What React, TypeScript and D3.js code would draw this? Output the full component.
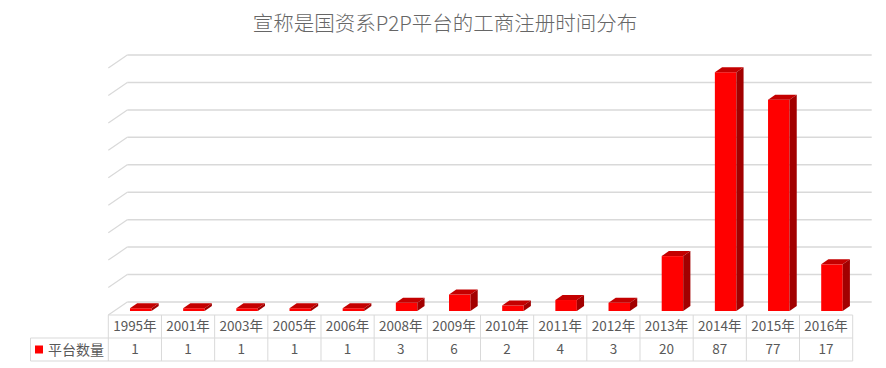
import React from "react";
import * as d3 from "d3";

const categories = ["1995年","2001年","2003年","2005年","2006年","2008年","2009年","2010年","2011年","2012年","2013年","2014年","2015年","2016年"];
const values = [1,1,1,1,1,3,6,2,4,3,20,87,77,17];
const seriesName = "平台数量";
const yTicks = [0,10,20,30,40,50,60,70,80,90];
const title = "宣称是国资系P2P平台的工商注册时间分布";

const W = 886, H = 368;
const left = 108.3, right = 852.7;
const floorFrontY = 315;
const depthX = 19, depthY = 13;
const backBase = floorFrontY - depthY;
const barFrontBase = 311;
const barFrac = (floorFrontY - barFrontBase) / depthY;
const barDX = 7.2, barDY = 5;
const barW = 21.5;
const rowH = 23;
const legendLeft = 30.5;
const textColor = "#595959";
const gridColor = "#d9d9d9";
const font = "'Noto Sans CJK SC', 'Noto Sans', sans-serif";

export default function App() {
  const x = d3.scaleBand<string>().domain(categories).range([left, right]).padding(0);
  const y = d3.scaleLinear().domain([0, 90]).range([backBase, 55]);
  const h = (v: number) => backBase - y(v);
  const shiftX = depthX * barFrac;

  return (
    <svg width={W} height={H} style={{ position: "absolute", left: 0, top: 0, background: "#fff" }}>
      <text x={445} y={31} textAnchor="middle" fontSize={20.5} fill="#666666" fontWeight={300} fontFamily={font}>{title}</text>
      {yTicks.map((t) => (
        <g key={t}>
          <line x1={left + depthX} x2={right + depthX} y1={y(t)} y2={y(t)} stroke={gridColor} strokeWidth={1.5} />
          <line x1={left} y1={y(t) + depthY} x2={left + depthX} y2={y(t)} stroke={gridColor} strokeWidth={1.2} />
        </g>
      ))}
      {categories.map((c, i) => {
        const v = values[i];
        const cx = (x(c) as number) + x.bandwidth() / 2 + shiftX;
        const x0 = cx - barW / 2, x1 = cx + barW / 2;
        const yb = barFrontBase, yt = barFrontBase - h(v);
        return (
          <g key={c}>
            <rect x={x0} y={yt} width={barW} height={yb - yt} fill="#ff0000" />
            <polygon points={`${x0},${yt} ${x1},${yt} ${x1 + barDX},${yt - barDY} ${x0 + barDX},${yt - barDY}`} fill="#c40000" />
            <polygon points={`${x1},${yt} ${x1 + barDX},${yt - barDY} ${x1 + barDX},${yb - barDY} ${x1},${yb}`} fill="#a20000" />
          </g>
        );
      })}
      <g stroke={gridColor} strokeWidth={1}>
        <line x1={left} x2={right} y1={floorFrontY} y2={floorFrontY} />
        <line x1={legendLeft} x2={right} y1={floorFrontY + rowH} y2={floorFrontY + rowH} />
        <line x1={legendLeft} x2={right} y1={floorFrontY + 2 * rowH} y2={floorFrontY + 2 * rowH} />
        <line x1={legendLeft} x2={legendLeft} y1={floorFrontY + rowH} y2={floorFrontY + 2 * rowH} />
        {categories.map((c) => (
          <line key={c} x1={x(c) as number} x2={x(c) as number} y1={floorFrontY} y2={floorFrontY + 2 * rowH} />
        ))}
        <line x1={right} x2={right} y1={floorFrontY} y2={floorFrontY + 2 * rowH} />
      </g>
      {categories.map((c, i) => (
        <g key={c} fontFamily={font} fontSize={13.5} fill={textColor} textAnchor="middle">
          <text x={(x(c) as number) + x.bandwidth() / 2} y={floorFrontY + rowH / 2 + 4.8}>{c}</text>
          <text x={(x(c) as number) + x.bandwidth() / 2} y={floorFrontY + rowH * 1.5 + 4.8}>{values[i]}</text>
        </g>
      ))}
      <rect x={35} y={345.5} width={8} height={8} fill="#ff0000" />
      <text x={48} y={floorFrontY + rowH * 1.5 + 5} fontFamily={font} fontSize={14} fill={textColor}>{seriesName}</text>
    </svg>
  );
}
